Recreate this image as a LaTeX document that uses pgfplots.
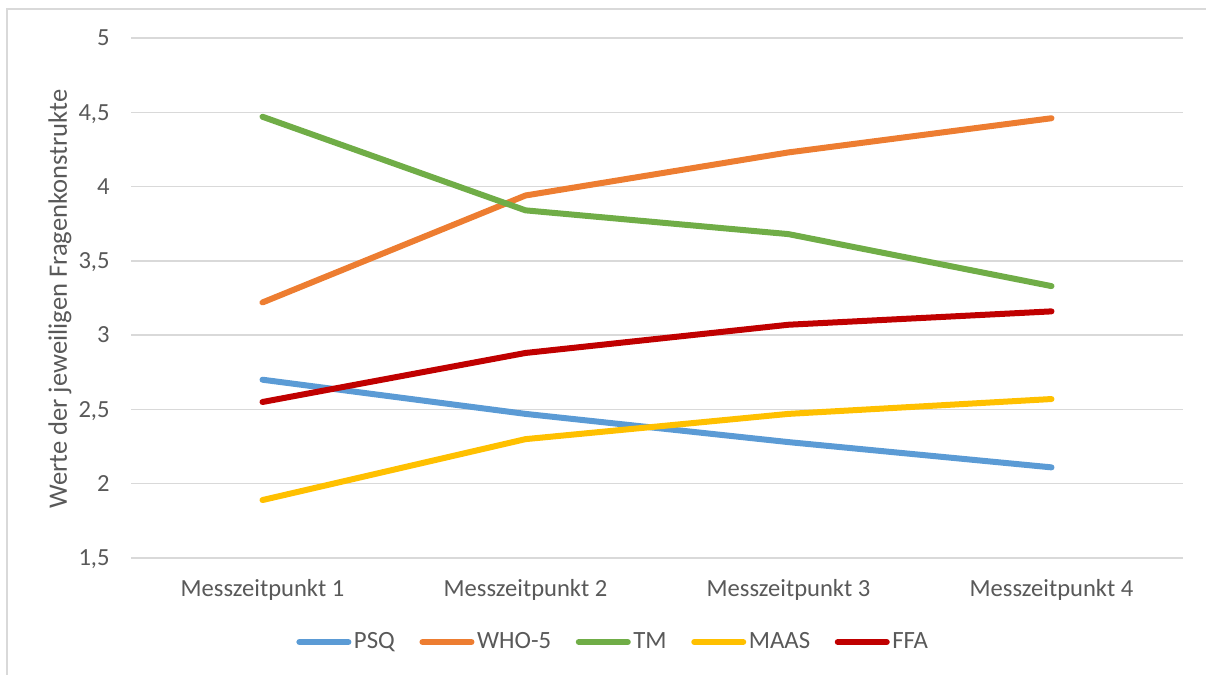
\documentclass[border=0pt]{standalone}
\usepackage{pgfplots}
\pgfplotsset{compat=1.18}
\usepackage{fontspec}
\setmainfont{Carlito}
\definecolor{psqc}{HTML}{5B9BD5}
\definecolor{whoc}{HTML}{ED7D31}
\definecolor{tmc}{HTML}{70AD47}
\definecolor{maasc}{HTML}{FFC000}
\definecolor{ffac}{HTML}{C00000}
\definecolor{gridc}{HTML}{D9D9D9}
\definecolor{textc}{HTML}{595959}
\begin{document}
\begin{tikzpicture}
\useasboundingbox (0,0) rectangle (603pt,337.5pt);
\draw[color=gridc, line width=0.75pt] (3.5pt,-2pt) -- (3.5pt,333pt) -- (605pt,333pt);
\begin{axis}[
  at={(65.5pt,58.5pt)}, anchor=south west,
  scale only axis, width=526pt, height=260pt,
  xmin=-0.5, xmax=3.5, ymin=1.5, ymax=5,
  xtick={0,1,2,3},
  xticklabels={Messzeitpunkt 1,Messzeitpunkt 2,Messzeitpunkt 3,Messzeitpunkt 4},
  ytick={1.5,2,2.5,3,3.5,4,4.5,5},
  ymajorgrids, grid style={color=gridc, line width=0.75pt},
  axis line style={draw=none},
  major tick length=0pt, tick style={draw=none},
  /pgf/number format/assume math mode=true,
  /pgf/number format/use comma,
  ticklabel style={text=textc, font=\fontsize{12.3}{14}\selectfont},
  yticklabel style={anchor=base east, inner sep=0pt, xshift=-10.5pt, yshift=-3.9pt},
  xticklabel style={anchor=base, inner sep=0pt, yshift=-19.3pt},
  clip=false,
  legend columns=5,
  legend style={draw=none, fill=none, at={(0.4587,-0.1615)}, anchor=center,
    font=\fontsize{12.4}{14}\selectfont, text=textc,
    nodes={inner sep=1.3pt},
    /tikz/every even column/.append style={column sep=11pt}},
  legend image code/.code={\draw[#1, line width=3pt, line cap=round] (0pt,0pt) -- (24.5pt,0pt);},
  every axis plot/.append style={line width=3pt, line cap=round, line join=round},
]
\addplot[color=psqc] coordinates {(0,2.70) (1,2.47) (2,2.28) (3,2.11)};
\addlegendentry{PSQ}
\addplot[color=whoc] coordinates {(0,3.22) (1,3.94) (2,4.23) (3,4.46)};
\addlegendentry{WHO-5}
\addplot[color=tmc] coordinates {(0,4.47) (1,3.84) (2,3.68) (3,3.33)};
\addlegendentry{TM}
\addplot[color=maasc] coordinates {(0,1.89) (1,2.30) (2,2.47) (3,2.57)};
\addlegendentry{MAAS}
\addplot[color=ffac] coordinates {(0,2.55) (1,2.88) (2,3.07) (3,3.16)};
\addlegendentry{FFA}
\end{axis}
\node[rotate=90, anchor=base, text=textc, font=\fontsize{13.3}{15}\selectfont, inner sep=0pt] at (33.5pt,188pt) {Werte der jeweiligen Fragenkonstrukte};
\end{tikzpicture}
\end{document}
